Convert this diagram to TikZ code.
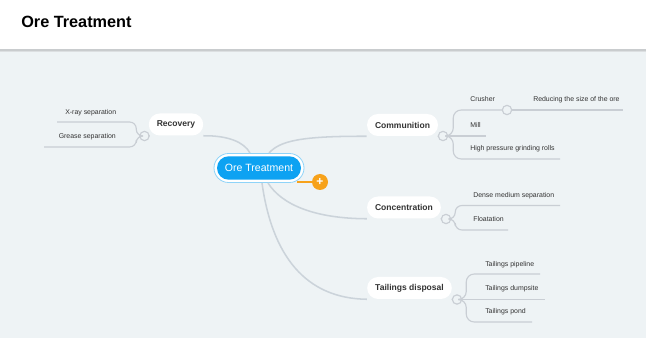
\documentclass[tikz,border=0pt]{standalone}
\usepackage{fontspec}
\setmainfont{Liberation Sans}
\definecolor{bgbody}{HTML}{EEF3F5}
\definecolor{shadowc}{HTML}{C9CCCE}
\definecolor{linec}{HTML}{CBD3DA}
\definecolor{subline}{HTML}{C9CED4}
\definecolor{mainblue}{HTML}{0DA2F2}
\definecolor{ringblue}{HTML}{8ED3F8}
\definecolor{orangec}{HTML}{F7A21B}
\definecolor{txt}{HTML}{333333}
\tikzset{
  topicbox/.style={rectangle, rounded corners=8.2pt, fill=white, minimum height=16.5pt, inner xsep=6pt,
    font=\fontsize{6.4}{7}\selectfont\bfseries, text=txt},
  leafcirc/.style={circle, draw=subline, line width=0.85pt, fill=bgbody, minimum size=7pt, inner sep=0},
  conn/.style={draw=linec, line width=1.15pt},
  sub/.style={draw=subline, line width=0.85pt},
  leaftxt/.style={font=\fontsize{5.2}{6}\selectfont, text=txt, inner sep=0},
}
\begin{document}
\begin{tikzpicture}[x=0.75pt,y=-0.75pt]
\useasboundingbox (0,0) rectangle (646,338);
% background
\fill[bgbody] (0,0) rectangle (646,338);
\fill[white] (0,0) rectangle (646,49);
\fill[shadowc] (0,49) rectangle (646,51);
\fill[shadowc!50!bgbody] (0,51) rectangle (646,52.5);
\node[font=\fontsize{12.2}{14}\selectfont\bfseries, text=black, anchor=west, inner sep=0] (title) at (21,22) {Ore Treatment};

% central topic
\node[rectangle, rounded corners=10.9pt, fill=white, draw=ringblue, line width=0.6pt, minimum width=67.5pt, minimum height=21.75pt] (otring) at (259,168) {};
\node[rectangle, rounded corners=8.8pt, fill=mainblue, minimum width=63pt, minimum height=17.6pt, text=white,
  font=\fontsize{7.9}{9}\selectfont] (ot) at (259,168) {Ore Treatment};
\node[circle, fill=orangec, minimum size=12pt, inner sep=0, text=white, font=\fontsize{9}{9}\selectfont\bfseries] (plus) at (320,182) {+};
\coordinate (plusl) at (297,182);
\draw[orangec, line width=0.8pt] (plusl) -- (plus.west);

% main topics
\node[topicbox, minimum width=39pt] (rec) at (176,124.5) {Recovery};
\node[topicbox, minimum width=52.5pt] (com) at (402.5,125) {Communition};
\node[topicbox, minimum width=54pt] (con) at (404,207.5) {Concentration};
\node[topicbox, minimum width=63pt] (tai) at (409.5,288) {Tailings disposal};

% connectors from centre
\draw[conn] (ot.north) ++(-9,-3) .. controls (244,142) and (228,135.5) .. (rec.south east);
\draw[conn] (ot.north) ++(10,-3) .. controls (280,141) and (300,136) .. (com.south west);
\draw[conn] (ot.south) ++(9,3) .. controls (282,205) and (315,218.5) .. (con.south west);
\draw[conn] (ot.south) ++(3,3) .. controls (272,255) and (305,298.5) .. (tai.south west);

% circles
\node[leafcirc] (crec) at (144.5,136) {};
\node[leafcirc] (ccom) at (443,136) {};
\node[leafcirc] (ccon) at (446,219) {};
\node[leafcirc] (ctai) at (457,299.5) {};
\node[leafcirc] (ccru) at (507,110) {};

\draw[sub] (rec.south west) -- (crec.east);
\draw[sub] (com.south east) -- (ccom.west);
\draw[sub] (con.south east) -- (ccon.west);
\draw[sub] (tai.south east) -- (ctai.west);

% Recovery children (left)
\coordinate (xr) at (57,122);
\coordinate (gr) at (44,147);
\draw[sub, rounded corners=5pt] (crec.west) -- ++(-3,0) |- (xr);
\draw[sub, rounded corners=5pt] (crec.west) -- ++(-3,0) |- (gr);
\node[leaftxt, anchor=west] (txr) at (65,113) {X-ray separation};
\node[leaftxt, anchor=west] (tgr) at (58.5,137) {Grease separation};

% Communition children
\coordinate (mill) at (486,136);
\coordinate (hpg) at (560,159);
\draw[sub, rounded corners=6pt] (ccom.east) -- ++(5,0) |- (ccru.west);
\draw[sub] (ccom.east) -- (mill);
\draw[sub, rounded corners=6pt] (ccom.east) -- ++(5,0) |- (hpg);
\coordinate (red) at (623,110);
\draw[sub] (ccru.east) -- (red);
\node[leaftxt, anchor=west] (tcru) at (470,99.5) {Crusher};
\node[leaftxt, anchor=west] (tred) at (533,99.5) {Reducing the size of the ore};
\node[leaftxt, anchor=west] (tmill) at (470,125) {Mill};
\node[leaftxt, anchor=west] (thpg) at (470,149) {High pressure grinding rolls};

% Concentration children
\coordinate (dms) at (560,205.5);
\coordinate (flo) at (508,230);
\draw[sub, rounded corners=5pt] (ccon.east) -- ++(4,0) |- (dms);
\draw[sub, rounded corners=5pt] (ccon.east) -- ++(4,0) |- (flo);
\node[leaftxt, anchor=west] (tdms) at (473,196) {Dense medium separation};
\node[leaftxt, anchor=west] (tflo) at (473,219.5) {Floatation};

% Tailings children
\coordinate (tpi) at (540,274);
\coordinate (tdu) at (545,299.5);
\coordinate (tpo) at (532,322);
\draw[sub, rounded corners=6pt] (ctai.east) -- ++(4,0) |- (tpi);
\draw[sub] (ctai.east) -- (tdu);
\draw[sub, rounded corners=6pt] (ctai.east) -- ++(4,0) |- (tpo);
\node[leaftxt, anchor=west] (ttpi) at (485,265) {Tailings pipeline};
\node[leaftxt, anchor=west] (ttdu) at (485,288.5) {Tailings dumpsite};
\node[leaftxt, anchor=west] (ttpo) at (485,312) {Tailings pond};
\end{tikzpicture}
\end{document}
